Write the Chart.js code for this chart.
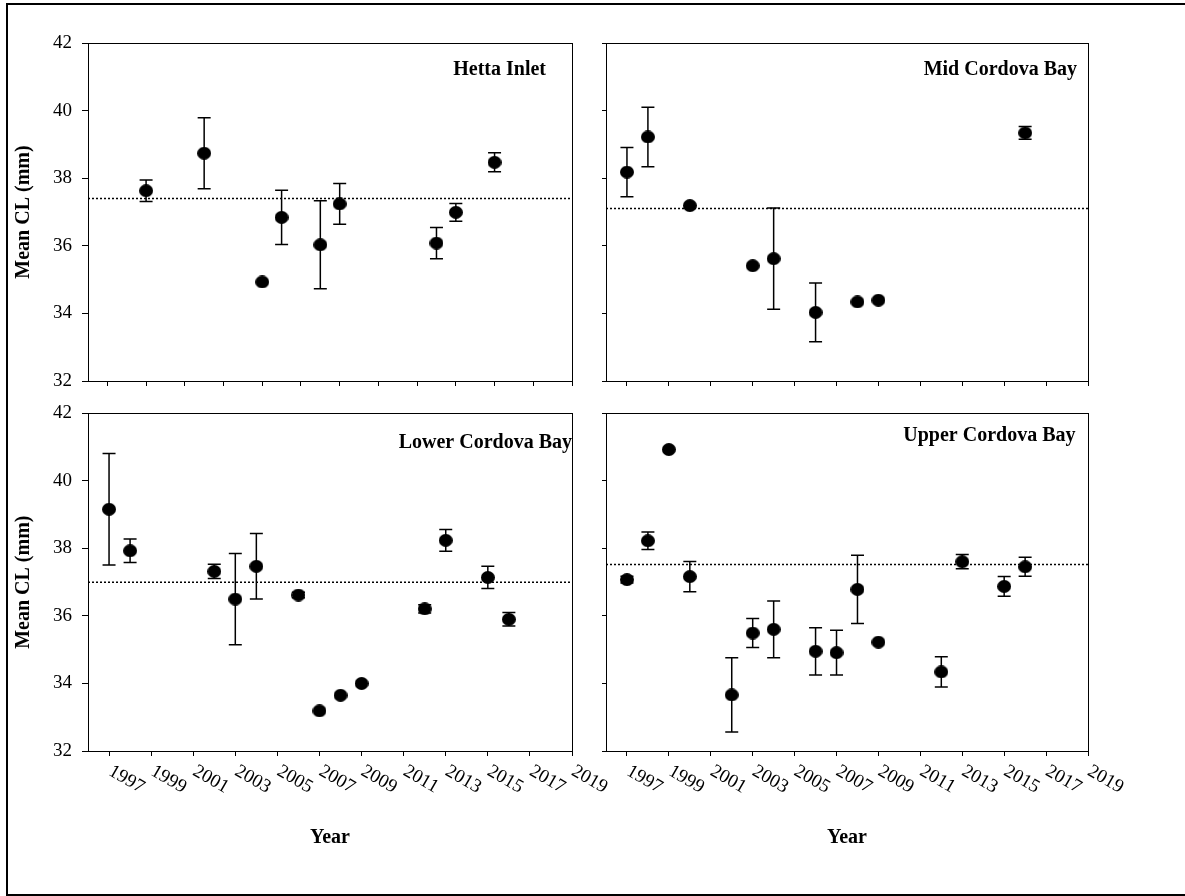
<!DOCTYPE html>
<html>
<head>
<meta charset="utf-8">
<script src="https://cdn.jsdelivr.net/npm/chart.js@4/dist/chart.umd.min.js"></script>
<style>
  html, body { margin: 0; padding: 0; background: #fff; overflow: hidden; }
  body { width: 1185px; height: 896px; position: relative; }
  .frame { position: absolute; left: 6px; top: 3px; width: 1300px; height: 889px; border: 2px solid #000; }
  .panel { position: absolute; }
</style>
</head>
<body>
<div class="frame"></div>
<div class="panel" style="left:0;top:0;width:590px;height:410px"><canvas id="hettaChart"></canvas></div>
<div class="panel" style="left:0;top:392px;width:630px;height:458px"><canvas id="lowerChart"></canvas></div>
<div class="panel" style="left:590px;top:0;width:595px;height:400px"><canvas id="midChart"></canvas></div>
<div class="panel" style="left:590px;top:400px;width:595px;height:450px"><canvas id="upperChart"></canvas></div>
<script>
// ---- data ----
const hettaYears = [1999, 2002, 2005, 2006, 2008, 2009, 2014, 2015, 2017];
const hettaMean  = [37.63, 38.74, 34.93, 36.84, 36.03, 37.24, 36.08, 36.99, 38.47];
const hettaErr   = [0.32, 1.05, 0, 0.80, 1.30, 0.60, 0.46, 0.26, 0.28];
const hettaAvg = 37.40;

const midYears = [1997, 1998, 2000, 2003, 2004, 2006, 2008, 2009, 2016];
const midMean  = [38.18, 39.22, 37.19, 35.41, 35.62, 34.03, 34.34, 34.39, 39.34];
const midErr   = [0.73, 0.88, 0, 0, 1.50, 0.87, 0, 0, 0.19];
const midAvg = 37.10;

const lowerYears = [1997, 1998, 2002, 2003, 2004, 2006, 2007, 2008, 2009, 2012, 2013, 2015, 2016];
const lowerMean  = [39.16, 37.93, 37.32, 36.50, 37.47, 36.62, 33.19, 33.65, 34.00, 36.21, 38.24, 37.14, 35.90];
const lowerErr   = [1.65, 0.35, 0.21, 1.35, 0.97, 0.08, 0, 0, 0, 0.12, 0.32, 0.33, 0.20];
const lowerAvg = 37.00;

const upperYears = [1997, 1998, 1999, 2000, 2002, 2003, 2004, 2006, 2007, 2008, 2009, 2012, 2013, 2015, 2016];
const upperMean  = [37.07, 38.22, 40.92, 37.16, 33.66, 35.49, 35.60, 34.95, 34.91, 36.78, 35.22, 34.34, 37.60, 36.87, 37.45];
const upperErr   = [0.10, 0.26, 0, 0.45, 1.10, 0.43, 0.84, 0.70, 0.66, 1.01, 0, 0.45, 0.21, 0.29, 0.28];
const upperAvg = 37.52;

const yearTicks = [1997, 1999, 2001, 2003, 2005, 2007, 2009, 2011, 2013, 2015, 2017, 2019];
const yearTicksHetta = [1997, 1999, 2001, 2003, 2005, 2007, 2009, 2011, 2013, 2015, 2017, 2019, 2021];
const clTicks = [32, 34, 36, 38, 40, 42];

const SERIF = "'Liberation Serif', 'Times New Roman', serif";
Chart.defaults.font.family = SERIF;
Chart.defaults.color = '#000';

// filled dot, slightly wider than tall like the original
const dot = document.createElement('canvas');
dot.width = 14; dot.height = 13;
(function () {
    const c = dot.getContext('2d');
    c.fillStyle = '#000';
    c.beginPath();
    c.ellipse(7, 6.5, 7, 6.5, 0, 0, Math.PI * 2);
    c.fill();
})();

// error bars, frame, panel name and slanted year labels
const panelExtras = {
    id: 'panelExtras',
    beforeDatasetsDraw(chart) {
        const ctx = chart.ctx, xs = chart.scales.x, ys = chart.scales.y;
        chart.data.datasets.forEach(ds => {
            if (!ds.errors) return;
            ctx.save();
            ctx.strokeStyle = '#000';
            ctx.lineWidth = 1.5;
            ds.data.forEach((p, i) => {
                const e = ds.errors[i];
                if (!e) return;
                const x = xs.getPixelForValue(p.x);
                const y1 = ys.getPixelForValue(p.y + e);
                const y2 = ys.getPixelForValue(p.y - e);
                ctx.beginPath();
                ctx.moveTo(x, y1); ctx.lineTo(x, y2);
                ctx.moveTo(x - 6.5, y1); ctx.lineTo(x + 6.5, y1);
                ctx.moveTo(x - 6.5, y2); ctx.lineTo(x + 6.5, y2);
                ctx.stroke();
            });
            ctx.restore();
        });
    },
    afterDraw(chart, args, opts) {
        const ctx = chart.ctx, a = chart.chartArea;
        ctx.save();
        ctx.strokeStyle = '#000';
        ctx.lineWidth = 1;
        ctx.strokeRect(Math.round(a.left) + 0.5, Math.round(a.top) + 0.5,
            Math.round(a.right - a.left), Math.round(a.bottom - a.top));

        ctx.font = 'bold 20px ' + SERIF;
        ctx.fillStyle = '#000';
        ctx.textAlign = 'right';
        ctx.textBaseline = 'alphabetic';
        ctx.fillText(opts.name, a.right - opts.nameRight, a.top + opts.nameBase);

        if (opts.yearLabels) {
            const xs = chart.scales.x;
            ctx.font = '19px ' + SERIF;
            ctx.textAlign = 'left';
            ctx.textBaseline = 'middle';
            yearTicks.forEach(v => {
                ctx.save();
                ctx.translate(xs.getPixelForValue(v) + 1, a.bottom + 19);
                ctx.rotate(30 * Math.PI / 180);
                ctx.fillText(String(v), 0, 0);
                ctx.restore();
            });
        }
        ctx.restore();
    }
};

function makePanel(id, cfg) {
    new Chart(document.getElementById(id), {
        type: 'scatter',
        data: {
            datasets: [
                {
                    data: cfg.years.map((yr, i) => ({ x: yr, y: cfg.means[i] })),
                    errors: cfg.errs,
                    pointStyle: dot,
                    pointRadius: 7,
                    backgroundColor: '#000',
                    borderColor: '#000'
                },
                {
                    type: 'line',
                    data: [{ x: cfg.xMin, y: cfg.avg }, { x: cfg.xMax, y: cfg.avg }],
                    borderColor: '#000',
                    borderWidth: 1.5,
                    borderDash: [2, 2],
                    pointRadius: 0,
                    fill: false
                }
            ]
        },
        options: {
            responsive: true,
            maintainAspectRatio: false,
            animation: false,
            layout: { padding: { top: cfg.padTop, right: cfg.padRight, left: 0, bottom: 0 } },
            plugins: {
                legend: { display: false },
                tooltip: { enabled: false },
                panelExtras: { name: cfg.name, nameRight: cfg.nameRight, nameBase: cfg.nameBase, yearLabels: cfg.bottom }
            },
            scales: {
                x: {
                    type: 'linear',
                    min: cfg.xMin,
                    max: cfg.xMax,
                    afterBuildTicks: s => { s.ticks = cfg.xTicks.map(v => ({ value: v })); },
                    afterFit: s => { s.height = cfg.xHeight; },
                    grid: { drawOnChartArea: false, drawTicks: true, tickLength: 5, color: '#000', tickColor: '#000' },
                    border: { display: true, color: '#000', width: 1 },
                    ticks: { display: false },
                    title: {
                        display: cfg.bottom,
                        text: 'Year',
                        font: { size: 20, weight: 'bold' },
                        color: '#000',
                        padding: { top: 0, bottom: 0 }
                    }
                },
                y: {
                    min: 32,
                    max: 42,
                    afterBuildTicks: s => { s.ticks = clTicks.map(v => ({ value: v })); },
                    afterFit: s => { s.width = cfg.yWidth; },
                    grid: { drawOnChartArea: false, drawTicks: true, tickLength: cfg.left ? 6 : 4, color: '#000', tickColor: '#000' },
                    border: { display: true, color: '#000', width: 1 },
                    ticks: { display: cfg.left, padding: 10, font: { size: 19 }, color: '#000' },
                    title: {
                        display: cfg.left,
                        text: 'Mean CL (mm)',
                        font: { size: 20, weight: 'bold' },
                        color: '#000',
                        padding: { top: 12, bottom: 0 }
                    }
                }
            }
        },
        plugins: [panelExtras]
    });
}

makePanel('hettaChart', {
    name: 'Hetta Inlet', years: hettaYears, means: hettaMean, errs: hettaErr, avg: hettaAvg,
    xMin: 1996, xMax: 2021, xTicks: yearTicksHetta,
    padTop: 43, padRight: 18, yWidth: 88, xHeight: 29, left: true, bottom: false,
    nameRight: 26, nameBase: 32
});
makePanel('midChart', {
    name: 'Mid Cordova Bay', years: midYears, means: midMean, errs: midErr, avg: midAvg,
    xMin: 1996, xMax: 2019, xTicks: yearTicks,
    padTop: 43, padRight: 97, yWidth: 16, xHeight: 19, left: false, bottom: false,
    nameRight: 11, nameBase: 32
});
makePanel('lowerChart', {
    name: 'Lower Cordova Bay', years: lowerYears, means: lowerMean, errs: lowerErr, avg: lowerAvg,
    xMin: 1996, xMax: 2019, xTicks: yearTicks,
    padTop: 21, padRight: 58, yWidth: 88, xHeight: 99, left: true, bottom: true,
    nameRight: 0, nameBase: 35
});
makePanel('upperChart', {
    name: 'Upper Cordova Bay', years: upperYears, means: upperMean, errs: upperErr, avg: upperAvg,
    xMin: 1996, xMax: 2019, xTicks: yearTicks,
    padTop: 13, padRight: 97, yWidth: 16, xHeight: 99, left: false, bottom: true,
    nameRight: 12.5, nameBase: 28
});
</script>
</body>
</html>
